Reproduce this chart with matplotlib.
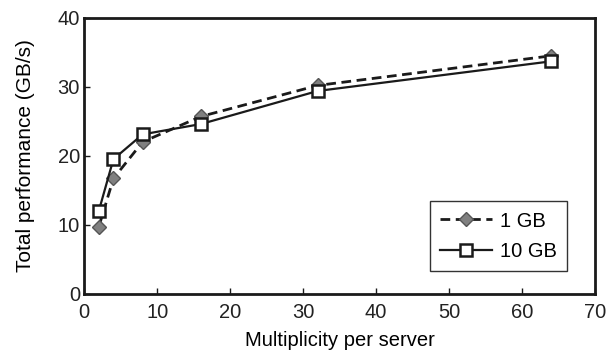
import matplotlib
matplotlib.use("Agg")
import matplotlib.pyplot as plt

plt.rcParams['font.family'] = ['Liberation Sans', 'DejaVu Sans']
plt.rcParams['font.size'] = 13

multiplicity = [2, 4, 8, 16, 32, 64]
perf_1gb = [9.7, 16.7, 22.0, 25.7, 30.2, 34.5]
perf_10gb = [12.0, 19.5, 23.1, 24.6, 29.4, 33.7]

fig, ax = plt.subplots(figsize=(6.06, 3.58), dpi=100)
ax.plot(multiplicity, perf_1gb, linestyle=(0, (3.5, 2)), color="#1a1a1a", linewidth=2,
        marker="D", markersize=7, markerfacecolor="#808080", markeredgecolor="#555555",
        markeredgewidth=1, label="1 GB")
ax.plot(multiplicity, perf_10gb, linestyle="-", color="#1a1a1a", linewidth=1.6,
        marker="s", markersize=8, markerfacecolor="white", markeredgecolor="#1a1a1a",
        markeredgewidth=1.8, label="10 GB")

ax.set_xlim(0, 70)
ax.set_ylim(0, 40)
ax.set_xticks(range(0, 71, 10))
ax.set_yticks(range(0, 41, 10))
ax.tick_params(direction="in", length=4, width=1, colors="#1a1a1a", labelcolor="#222222", labelsize=14.5)
ax.tick_params(axis="x", pad=7)
ax.tick_params(axis="y", pad=3)
for s in ax.spines.values():
    s.set_linewidth(2)
    s.set_color("#1a1a1a")
ax.set_xlabel("Multiplicity per server", fontsize=14.5, labelpad=6)
ax.set_ylabel("Total performance (GB/s)", fontsize=15, labelpad=16)
leg = ax.legend(loc="lower right", bbox_to_anchor=(0.945, 0.083), borderaxespad=0,
                fancybox=False, framealpha=1, edgecolor="#333333", fontsize=14.5,
                handlelength=2.6, handletextpad=0.4, borderpad=0.5, labelspacing=0.55)
leg.get_frame().set_linewidth(1)

fig.subplots_adjust(left=0.139, right=0.982, top=0.95, bottom=0.18)
fig.savefig("out.png", dpi=100)
